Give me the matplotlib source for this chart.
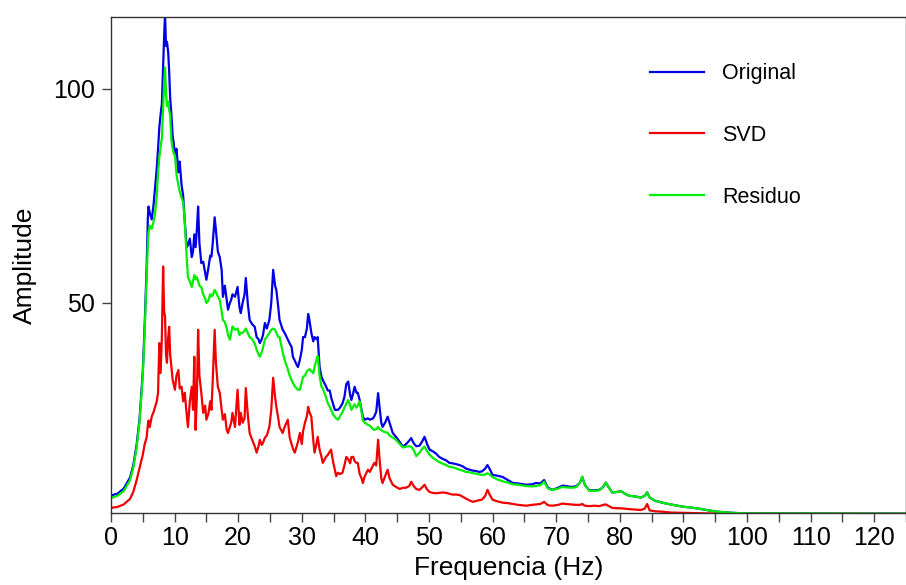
import matplotlib.pyplot as plt
from matplotlib.ticker import MultipleLocator

freq = [0, 1, 2, 3, 3.5, 4, 4.5, 5.0, 5.3, 5.6, 5.8, 5.9, 6.1, 6.4, 6.7, 6.9, 7.2, 7.4, 7.6, 7.8,
        8.0, 8.2, 8.35, 8.5, 8.65, 8.8, 9.0, 9.15, 9.3, 9.5, 9.7, 9.85, 10.05, 10.3, 10.6, 10.8,
        11.1, 11.35, 11.6, 11.9, 12.1, 12.4, 12.7, 12.9, 13.1, 13.3, 13.5, 13.7, 13.9, 14.2, 14.5,
        14.8, 15.0, 15.3, 15.6, 15.8, 16.0, 16.3, 16.5, 16.8, 17.1, 17.4, 17.6, 17.9, 18.2, 18.4,
        18.7, 18.9, 19.1, 19.5, 19.9, 20.2, 20.4, 20.7, 21.0, 21.2, 21.5, 21.8, 22.2, 22.6, 22.9,
        23.2, 23.4, 23.7, 23.9, 24.2, 24.5, 24.9, 25.2, 25.5, 25.8, 26.0, 26.3, 26.5, 27.0, 27.3,
        27.8, 28.1, 28.4, 28.6, 28.9, 29.2, 29.4, 29.7, 30.0, 30.2, 30.5, 30.8, 31.0, 31.2, 31.5,
        31.8, 32.0, 32.3, 32.5, 32.8, 33.1, 33.3, 33.8, 34.1, 34.4, 34.6, 34.9, 35.2, 35.4, 35.7,
        36.0, 36.4, 36.7, 37.0, 37.3, 37.6, 37.8, 38.1, 38.3, 38.6, 38.8, 39.1, 39.4, 39.6, 39.9,
        40.4, 40.7, 41.2, 41.4, 41.7, 42.0, 42.2, 42.5, 42.7, 43.1, 43.5, 43.8, 44.3, 44.8, 45.4,
        45.9, 46.4, 46.9, 47.2, 47.6, 48.0, 48.5, 49.0, 49.3, 49.7, 50.1, 50.6, 51.1, 51.6, 52.2,
        52.7, 53.2, 53.7, 54.3, 54.8, 55.3, 55.8, 56.4, 56.9, 57.4, 57.9, 58.3, 58.8, 59.2, 59.6,
        60.0, 60.8, 61.6, 62.4, 63.2, 64.0, 65.3, 66.2, 66.8, 67.5, 68.1, 68.7, 69.4, 70.3, 71.0,
        71.5, 72.3, 73.1, 73.7, 74.1, 74.5, 75.2, 76.0, 76.8, 77.4, 77.8, 78.3, 78.8, 79.5, 80.2,
        80.8, 81.5, 82.3, 83.3, 83.9, 84.3, 84.7, 85.5, 86.7, 88.0, 89.8, 91.0, 92.5, 94.0, 95.1,
        96.5, 98.2, 100, 125]

original = [5.0, 5.4, 6.6, 9.2, 12.0, 16.5, 23, 34, 45, 58, 70, 72.5, 71, 69.5, 73, 76.5, 81.5, 86, 91, 94,
            96.5, 105.5, 112, 117.5, 110, 111, 108.5, 104, 98, 94, 89, 87.5, 84.5, 86, 80.5, 83,
            77.5, 75, 69, 63, 63.5, 65, 60.7, 62, 66, 63, 67, 72.5, 64, 59.3, 59.6,
            57, 55.4, 58, 61, 60.8, 64, 70, 67, 62, 60.7, 57.7, 51.4, 54, 50.7, 48.4,
            50, 50.7, 52, 51.4, 53.7, 49, 47.6, 50, 52, 55.8, 50, 46, 45, 44.4, 42,
            41.5, 40.6, 41.5, 42.5, 45.3, 44, 46, 50, 57.7, 54, 53, 49, 46, 43.7, 43,
            41.4, 40.5, 39.7, 37.4, 36.5, 35.5, 35, 36.7, 39, 42, 42, 44, 47.4, 46, 43,
            41, 42, 41.5, 42, 35, 32.7, 32, 30.5, 29.5, 29.5, 28, 26.5, 25, 25, 25,
            25.5, 26.5, 28, 31, 31.6, 28.5, 27.3, 29, 30.4, 29, 29, 27.3, 25, 23.4, 22.7,
            23, 22.7, 23, 23.5, 24.5, 28.9, 26, 22, 21, 22, 23.4, 22, 19.6, 18.7, 17.5,
            16.4, 17, 17.8, 18.4, 17.2, 16.5, 16.6, 17.8, 18.7, 17, 15.7, 15.3, 14.8, 14, 13.5,
            13.2, 12.6, 12.5, 12.3, 12.1, 11.8, 11.3, 11, 10.8, 10.7, 10.5, 10.6, 11.2, 12.1, 11,
            9.8, 9.6, 9.3, 8.6, 7.9, 7.8, 7.5, 7.6, 7.9, 7.8, 8.6, 6.8, 6.3, 6.8, 7.3,
            7.2, 7, 7.1, 7.9, 9.3, 7.5, 6.2, 6.2, 6.3, 7, 8, 6.8, 5.7, 5.8, 6,
            5.4, 4.9, 4.8, 4.5, 4.9, 5.7, 4.5, 3.8, 3.3, 2.9, 2.4, 2.2, 1.9, 1.5, 1.25,
            1.05, 0.9, 0.8, 0.75]

svd = [2.1, 2.3, 2.9, 4.2, 5.8, 8.4, 11.5, 14.5, 17.0, 18.5, 21.5, 22.5, 21, 23.4, 24.5, 25.5, 27, 29, 40.6, 33.6,
       42, 58.5, 48, 46.7, 38, 36, 42, 44.4, 38, 35, 32, 31, 29.7, 33, 34.3, 30,
       30.4, 27, 29, 24, 21, 27, 30.4, 25, 37.4, 20.3, 28, 43.7, 33, 29, 24.3,
       26, 22.7, 24, 27, 25, 32, 43.7, 36, 30.4, 29, 25, 22.7, 24, 20.3, 19.6,
       21, 22, 24.3, 21, 29.7, 21.5, 24.3, 22, 23, 30.1, 24, 19.6, 18, 16.5, 15,
       16.5, 18, 16.8, 17.3, 18.5, 19, 21, 25, 32.5, 28, 25.7, 23, 21, 19.6, 21,
       22.7, 18.5, 17, 16, 15, 16.5, 17.5, 19.6, 17, 20, 22, 23.5, 25.7, 24.5, 23.4,
       18, 15, 17, 18.7, 15.7, 14, 12.6, 14, 14.5, 15.2, 15.7, 13, 11, 9.5, 10.3,
       10, 10.3, 12, 14, 13.5, 12.5, 14, 14, 13, 12.6, 12.6, 10, 9, 7.9, 9.5,
       11, 10.5, 12, 12.6, 12, 18, 14, 9, 7.9, 9.5, 11, 9, 7.5, 7, 6.5,
       6.8, 6.8, 7.2, 8.2, 7.2, 6.5, 6.3, 7, 7.5, 6.4, 5.8, 5.6, 5.5, 5.6, 5.7,
       5.6, 5.4, 5.2, 5.2, 5.1, 4.7, 4.3, 3.8, 3.5, 3.7, 3.9, 4, 4.8, 6.3, 5,
       4, 3.6, 3.3, 3.2, 3, 2.8, 2.6, 2.8, 2.9, 3, 3.5, 2.7, 2.6, 2.8, 3.1,
       3, 2.9, 2.8, 2.8, 3, 2.6, 2.5, 2.6, 2.5, 2.8, 2.9, 2.5, 2.1, 2, 2,
       1.9, 1.8, 1.7, 1.6, 1.9, 3.0, 1.5, 1.3, 1.2, 1.0, 0.95, 0.9, 0.85, 0.8, 0.8,
       0.75, 0.75, 0.7, 0.7]

residuo = [4.4, 4.9, 6.0, 8.6, 11.4, 15.8, 22.3, 33, 43.5, 56, 64, 66.5, 68, 67.3, 69, 70.5, 75, 80.5, 84, 86.5,
           88.5, 96, 101, 105, 99, 96, 97, 95, 94, 88, 86, 85, 84.5, 80, 77.5, 76,
           74.5, 73.5, 69, 60.7, 56, 55, 53.7, 55, 56.5, 55.5, 56, 55, 54, 53.7, 52,
           51, 50, 50.5, 52, 51.5, 51.8, 53, 52.5, 51.5, 50.7, 48, 46, 45.5, 44, 42.5,
           41.4, 43, 44.5, 43.7, 44, 42.5, 43, 43, 43.5, 44, 43, 42, 41.5, 40.5, 39,
           38, 37.4, 38.5, 39.5, 41.5, 42, 43, 43.7, 44, 43.7, 43, 42, 42, 38.5, 36.7,
           34.5, 33, 32, 31.3, 30.5, 30, 29.7, 29.7, 31.5, 32.7, 33, 34, 34.3, 34.5, 34,
           33.6, 35, 36.7, 37.6, 33, 30.4, 30, 28, 26.5, 25.7, 25, 24, 23.4, 23, 22.7,
           23.5, 24.5, 25.5, 26.5, 27.3, 26, 25, 25.8, 26.3, 25.5, 26, 27, 24.5, 22.5, 22,
           21.5, 21.3, 20.5, 20.3, 20.5, 21, 20.5, 20.3, 20, 19.8, 19.6, 19, 18.5, 18, 17,
           16.2, 16.4, 16.5, 16.4, 15.6, 14.2, 15, 16, 16.4, 15.4, 14.5, 13.8, 13.3, 12.8, 12.4,
           12.1, 11.7, 11.6, 11.3, 11, 10.8, 10.5, 10.4, 10.2, 10.1, 9.9, 9.8, 9.9, 10.2, 9.8,
           9.3, 8.7, 8.3, 8, 7.6, 7.5, 7.2, 7.1, 7.2, 7.4, 8.2, 6.6, 6.3, 6.6, 7,
           6.9, 6.8, 6.9, 7.9, 9.4, 7.5, 6.1, 6.1, 6.2, 7, 8, 6.8, 5.7, 5.8, 6,
           5.4, 4.9, 4.8, 4.5, 4.9, 5.7, 4.5, 3.8, 3.3, 2.9, 2.4, 2.2, 1.9, 1.5, 1.25,
           1.05, 0.9, 0.8, 0.75]

plt.rcParams['font.family'] = ['Liberation Sans', 'DejaVu Sans']

fig = plt.figure(figsize=(9.06, 5.85), dpi=100)
ax = fig.add_axes([0.1225, 0.1231, 0.8775, 0.8479])

ax.plot(freq, original, color='#0000e6', lw=1.6, label='Original')
ax.plot(freq, svd, color='#f00000', lw=1.6, label='SVD')
ax.plot(freq, residuo, color='#00ee00', lw=1.6, label='Residuo')

ax.set_xlim(0, 125)
ax.set_ylim(0.9, 116.8)
ax.xaxis.set_major_locator(MultipleLocator(10))
ax.xaxis.set_minor_locator(MultipleLocator(5))
ax.set_yticks([50, 100])
ax.tick_params(which='both', direction='out', length=6.5, width=1, color='#444444',
               labelsize=18, pad=3)
ax.tick_params(axis='y', pad=5)
for s in ax.spines.values():
    s.set_color('#333333')
    s.set_linewidth(1)

ax.set_xlabel('Frequencia (Hz)', fontsize=19, labelpad=4)
ax.set_ylabel('Amplitude', fontsize=19, labelpad=12)

ax.legend(loc='upper left', bbox_to_anchor=(0.678, 0.907), frameon=False, fontsize=15.5,
          borderpad=0, borderaxespad=0, handlelength=2.5, handletextpad=0.85,
          labelspacing=1.9)

plt.savefig('out.png', dpi=100)
